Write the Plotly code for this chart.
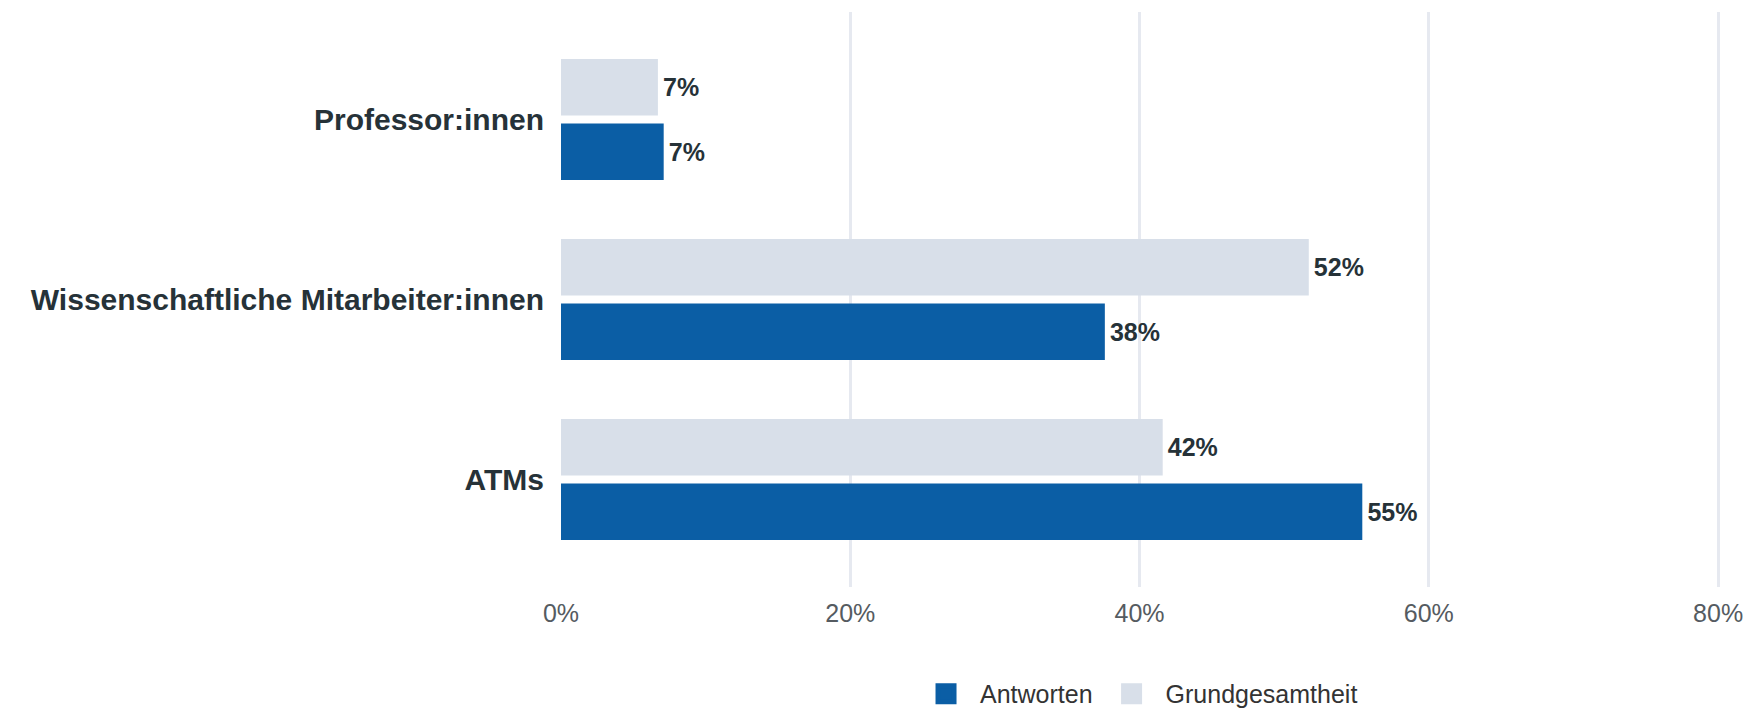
import plotly.graph_objects as go

# Employee groups, bottom to top on the category axis
categories = ["ATMs", "Wissenschaftliche Mitarbeiter:innen", "Professor:innen"]

# Shares in percent
antworten = [55.4, 37.6, 7.1]
grundgesamtheit = [41.6, 51.7, 6.7]

x_ticks = [0, 20, 40, 60, 80]
x_ticklabels = ["0%", "20%", "40%", "60%", "80%"]

BLUE = "#0b5ea5"
GREY = "#d8dfe9"
FONT = "Liberation Sans, Arial, Helvetica, sans-serif"

fig = go.Figure()

series = [("Antworten", antworten, BLUE), ("Grundgesamtheit", grundgesamtheit, GREY)]

for name, values, color in series:
    fig.add_trace(go.Bar(
        y=categories,
        x=values,
        orientation="h",
        name=name,
        marker=dict(color=color, line=dict(width=0)),
        texttemplate="\u200a%{x:.0f}%",
        textposition="outside",
        cliponaxis=False,
        textfont=dict(family=FONT, size=25, color="#263238", weight="bold"),
        showlegend=False,
        hoverinfo="skip",
    ))

# Legend entries with larger square swatches
for name, values, color in series:
    fig.add_trace(go.Scatter(
        x=[None], y=[None],
        mode="markers",
        name=name,
        marker=dict(symbol="square", size=16, color=color, line=dict(width=5, color=color)),
        showlegend=True,
        hoverinfo="skip",
    ))

fig.update_layout(
    width=1755,
    height=709,
    margin=dict(l=561, r=34, t=12, b=122, autoexpand=False),
    paper_bgcolor="white",
    plot_bgcolor="white",
    barmode="group",
    bargap=0.283,
    bargroupgap=0.124,
    font=dict(family=FONT, color="#333333"),
    legend=dict(
        orientation="h",
        x=0.497, xanchor="center",
        y=-0.226, yanchor="bottom",
        font=dict(family=FONT, size=25, color="#333333"),
        itemwidth=58,
        traceorder="normal",
        bgcolor="rgba(0,0,0,0)",
    ),
    xaxis=dict(
        range=[0, 80.2],
        tickvals=x_ticks,
        ticktext=x_ticklabels,
        tickfont=dict(family=FONT, size=25, color="#555b61"),
        showgrid=True,
        gridcolor="#e6e9f0",
        gridwidth=3,
        zeroline=False,
        showline=False,
        ticks="",
        ticklabelstandoff=9,
        fixedrange=True,
    ),
    yaxis=dict(
        type="category",
        categoryorder="array",
        categoryarray=categories,
        range=[-0.597, 2.597],
        tickfont=dict(family=FONT, size=30, color="#263238", weight="bold"),
        showgrid=False,
        zeroline=False,
        showline=False,
        ticks="",
        ticklabelstandoff=16,
        fixedrange=True,
    ),
)

fig.write_html("out.html")
